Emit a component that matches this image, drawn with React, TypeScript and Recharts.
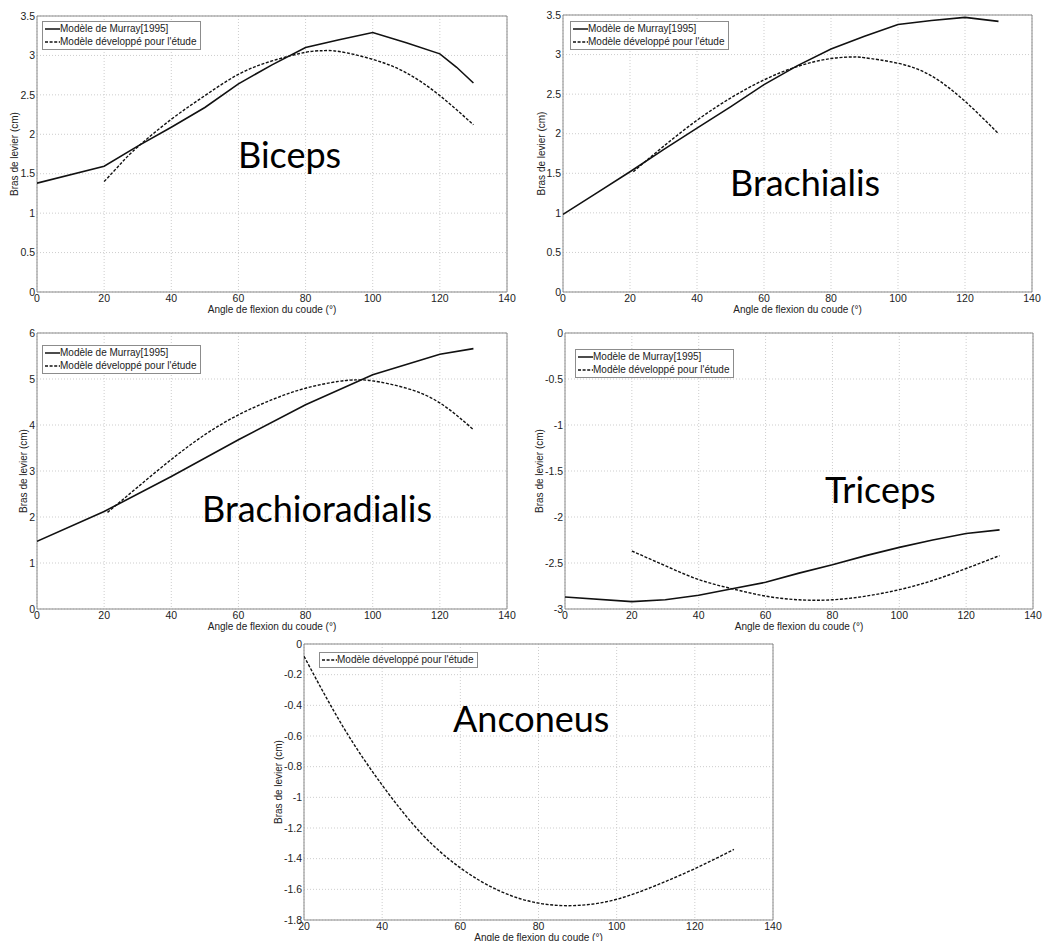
import React from 'react';
import { LineChart, Line, XAxis, YAxis, CartesianGrid, ReferenceArea, Legend } from 'recharts';

const MURRAY = 'Modèle de Murray[1995]';
const MODEL = "Modèle développé pour l'étude";
const X_TITLE = 'Angle de flexion du coude (°)';
const Y_TITLE = 'Bras de levier (cm)';

// tick labels
const xTicksFull = [0, 20, 40, 60, 80, 100, 120, 140];
const xTicksAnconeus = [20, 40, 60, 80, 100, 120, 140];
const yTicksBiceps = [0, 0.5, 1, 1.5, 2, 2.5, 3, 3.5];
const yTicksBrachialis = [0, 0.5, 1, 1.5, 2, 2.5, 3, 3.5];
const yTicksBrachioradialis = [0, 1, 2, 3, 4, 5, 6];
const yTicksTriceps = [-3, -2.5, -2, -1.5, -1, -0.5, 0];
const yTicksAnconeus = [-1.8, -1.6, -1.4, -1.2, -1, -0.8, -0.6, -0.4, -0.2, 0];

// Biceps
const bicepsMurrayAngle = [0, 20, 30, 40, 50, 60, 70, 80, 90, 100, 110, 120, 125, 130];
const bicepsMurray = [1.38, 1.595, 1.85, 2.09, 2.34, 2.64, 2.88, 3.1, 3.2, 3.29, 3.16, 3.02, 2.85, 2.65];
const bicepsModelAngle = [20, 25, 30, 40, 50, 60, 70, 80, 85, 90, 100, 110, 120, 130];
const bicepsModel = [1.4, 1.63, 1.84, 2.19, 2.49, 2.76, 2.93, 3.04, 3.06, 3.05, 2.95, 2.78, 2.49, 2.12];

// Brachialis
const brachialisMurrayAngle = [0, 10, 20, 30, 40, 50, 60, 70, 80, 90, 100, 110, 120, 130];
const brachialisMurray = [0.98, 1.25, 1.52, 1.8, 2.07, 2.34, 2.62, 2.86, 3.07, 3.23, 3.38, 3.43, 3.47, 3.42];
const brachialisModelAngle = [21, 30, 40, 50, 60, 70, 80, 87, 90, 100, 110, 120, 130];
const brachialisModel = [1.52, 1.84, 2.17, 2.45, 2.68, 2.85, 2.95, 2.97, 2.96, 2.89, 2.73, 2.41, 2.0];

// Brachioradialis
const brachioradialisMurrayAngle = [0, 20, 40, 60, 80, 100, 120, 130];
const brachioradialisMurray = [1.47, 2.12, 2.88, 3.68, 4.44, 5.09, 5.54, 5.66];
const brachioradialisModelAngle = [21, 30, 40, 50, 60, 70, 80, 90, 95, 100, 110, 120, 130];
const brachioradialisModel = [2.1, 2.65, 3.25, 3.79, 4.22, 4.55, 4.8, 4.95, 4.98, 4.96, 4.8, 4.48, 3.9];

// Triceps
const tricepsMurrayAngle = [0, 20, 30, 40, 50, 60, 70, 80, 90, 100, 110, 120, 130];
const tricepsMurray = [-2.87, -2.92, -2.9, -2.85, -2.78, -2.71, -2.61, -2.52, -2.42, -2.33, -2.25, -2.18, -2.14];
const tricepsModelAngle = [20, 30, 40, 50, 60, 70, 80, 90, 100, 110, 120, 130];
const tricepsModel = [-2.37, -2.53, -2.68, -2.78, -2.86, -2.9, -2.9, -2.86, -2.79, -2.69, -2.56, -2.42];

// Anconeus
const anconeusModelAngle = [20, 30, 40, 50, 60, 70, 80, 90, 100, 110, 120, 130];
const anconeusModel = [-0.08, -0.54, -0.92, -1.235, -1.46, -1.61, -1.69, -1.705, -1.665, -1.575, -1.465, -1.34];

type Row = { angle: number; murray?: number | null; model?: number | null };

function buildRows(mA: number[] | null, mV: number[] | null, dA: number[], dV: number[]): Row[] {
  const map = new Map<number, Row>();
  if (mA && mV) {
    mA.forEach((a, i) => {
      const r = map.get(a) || { angle: a, murray: null, model: null };
      r.murray = mV[i];
      map.set(a, r);
    });
  }
  dA.forEach((a, i) => {
    const r = map.get(a) || { angle: a, murray: null, model: null };
    r.model = dV[i];
    map.set(a, r);
  });
  return Array.from(map.values()).sort((p, q) => p.angle - q.angle);
}

const FONT = "'Liberation Sans', Arial, Helvetica, sans-serif";
const TXT = '#222';
const Y_AXIS_W = 37;
const M_TOP = 5;
const M_RIGHT = 16;
const X_AXIS_H = 24;

const LegendBox = ({ hasMurray }: { hasMurray: boolean }) => {
  const items = hasMurray
    ? [{ label: MURRAY, dashed: false }, { label: MODEL, dashed: true }]
    : [{ label: MODEL, dashed: true }];
  return (
    <div
      style={{
        border: '1px solid #8c8c8c',
        background: '#fff',
        padding: '1px 4px 1px 1px',
        fontFamily: FONT,
        fontSize: 10,
        color: TXT,
        lineHeight: '12.5px',
        display: 'inline-block',
      }}
    >
      {items.map((it) => (
        <div key={it.label} style={{ display: 'flex', alignItems: 'center', whiteSpace: 'nowrap' }}>
          <svg width={16} height={10} style={{ display: 'block' }}>
            <line
              x1={1}
              x2={16}
              y1={5}
              y2={5}
              stroke="#111"
              strokeWidth={1.5}
              strokeDasharray={it.dashed ? '3 1.6' : undefined}
            />
          </svg>
          <span>{it.label}</span>
        </div>
      ))}
    </div>
  );
};

type PanelProps = {
  plotLeft: number;
  plotTop: number;
  plotW: number;
  plotH: number;
  xDomain: [number, number];
  xTicks: number[];
  yDomain: [number, number];
  yTicks: number[];
  rows: Row[];
  hasMurray: boolean;
  yTitleDist: number;
  xTitleOffset?: number;
  legendDx: number;
  legendDy: number;
};

function Panel(p: PanelProps) {
  const width = Y_AXIS_W + p.plotW + M_RIGHT;
  const height = M_TOP + p.plotH + X_AXIS_H;
  return (
    <div style={{ position: 'absolute', left: p.plotLeft - Y_AXIS_W, top: p.plotTop - M_TOP }}>
      <LineChart width={width} height={height} data={p.rows} margin={{ top: M_TOP, right: M_RIGHT, bottom: 0, left: 0 }}>
        <CartesianGrid stroke="#cdcdcd" strokeDasharray="1 2" />
        <XAxis
          dataKey="angle"
          type="number"
          domain={p.xDomain}
          ticks={p.xTicks}
          interval={0}
          allowDataOverflow
          axisLine={false}
          tickLine={false}
          tickSize={0}
          tickMargin={3}
          height={X_AXIS_H}
          tick={{ fontSize: 10.5, fill: TXT, fontFamily: FONT }}
          label={{
            value: X_TITLE,
            position: 'insideBottom',
            offset: p.xTitleOffset ?? 3,
            fontSize: 10,
            fill: TXT,
            fontFamily: FONT,
          }}
        />
        <YAxis
          type="number"
          domain={p.yDomain}
          ticks={p.yTicks}
          interval={0}
          allowDataOverflow
          axisLine={false}
          tickLine={false}
          tickSize={0}
          tickMargin={2}
          width={Y_AXIS_W}
          tick={{ fontSize: 10.5, fill: TXT, fontFamily: FONT }}
          label={{
            value: Y_TITLE,
            angle: -90,
            position: 'insideLeft',
            offset: Y_AXIS_W - p.yTitleDist,
            fontSize: 10,
            fill: TXT,
            fontFamily: FONT,
            style: { textAnchor: 'middle' },
          }}
        />
        <ReferenceArea
          x1={p.xDomain[0]}
          x2={p.xDomain[1]}
          y1={p.yDomain[0]}
          y2={p.yDomain[1]}
          fill="none"
          fillOpacity={0}
          stroke="#8a8a8a"
          strokeWidth={1}
          ifOverflow="visible"
        />
        {p.hasMurray && (
          <Line
            type="linear"
            dataKey="murray"
            name={MURRAY}
            stroke="#111"
            strokeWidth={1.6}
            dot={false}
            connectNulls
            isAnimationActive={false}
          />
        )}
        <Line
          type="natural"
          dataKey="model"
          name={MODEL}
          stroke="#111"
          strokeWidth={1.4}
          strokeDasharray="3 1.6"
          dot={false}
          connectNulls
          isAnimationActive={false}
        />
        <Legend
          layout="horizontal"
          align="center"
          verticalAlign="middle"
          wrapperStyle={{ top: M_TOP + p.legendDy, left: Y_AXIS_W + p.legendDx, width: 'auto', height: 'auto' }}
          content={() => <LegendBox hasMurray={p.hasMurray} />}
        />
      </LineChart>
    </div>
  );
}

const bigLabels = [
  { text: 'Biceps', x: 238, y: 168 },
  { text: 'Brachialis', x: 730, y: 196 },
  { text: 'Brachioradialis', x: 202, y: 522 },
  { text: 'Triceps', x: 825, y: 503 },
  { text: 'Anconeus', x: 453, y: 732 },
];

export default function App() {
  return (
    <div
      style={{
        position: 'absolute',
        left: 0,
        top: 0,
        width: 1043,
        height: 941,
        background: '#fff',
        overflow: 'hidden',
      }}
    >
      <Panel
        plotLeft={37}
        plotTop={16}
        plotW={470}
        plotH={276}
        xDomain={[0, 140]}
        xTicks={xTicksFull}
        yDomain={[0, 3.5]}
        yTicks={yTicksBiceps}
        rows={buildRows(bicepsMurrayAngle, bicepsMurray, bicepsModelAngle, bicepsModel)}
        hasMurray
        yTitleDist={23}
        legendDx={5}
        legendDy={5}
      />
      <Panel
        plotLeft={563}
        plotTop={15}
        plotW={469}
        plotH={277}
        xDomain={[0, 140]}
        xTicks={xTicksFull}
        yDomain={[0, 3.5]}
        yTicks={yTicksBrachialis}
        rows={buildRows(brachialisMurrayAngle, brachialisMurray, brachialisModelAngle, brachialisModel)}
        hasMurray
        yTitleDist={21.5}
        legendDx={7}
        legendDy={6}
      />
      <Panel
        plotLeft={37}
        plotTop={333}
        plotW={470}
        plotH={276}
        xDomain={[0, 140]}
        xTicks={xTicksFull}
        yDomain={[0, 6]}
        yTicks={yTicksBrachioradialis}
        rows={buildRows(brachioradialisMurrayAngle, brachioradialisMurray, brachioradialisModelAngle, brachioradialisModel)}
        hasMurray
        yTitleDist={14}
        legendDx={5}
        legendDy={12}
      />
      <Panel
        plotLeft={565}
        plotTop={333}
        plotW={468}
        plotH={276}
        xDomain={[0, 140]}
        xTicks={xTicksFull}
        yDomain={[-3, 0]}
        yTicks={yTicksTriceps}
        rows={buildRows(tricepsMurrayAngle, tricepsMurray, tricepsModelAngle, tricepsModel)}
        hasMurray
        yTitleDist={26}
        legendDx={10}
        legendDy={16}
      />
      <Panel
        plotLeft={304}
        plotTop={644}
        plotW={469}
        plotH={276}
        xDomain={[20, 140]}
        xTicks={xTicksAnconeus}
        yDomain={[-1.8, 0]}
        yTicks={yTicksAnconeus}
        rows={buildRows(null, null, anconeusModelAngle, anconeusModel)}
        hasMurray={false}
        yTitleDist={26}
        xTitleOffset={3.5}
        legendDx={15}
        legendDy={7}
      />
      <svg
        width={1043}
        height={941}
        style={{ position: 'absolute', left: 0, top: 0, pointerEvents: 'none' }}
      >
        {bigLabels.map((b) => (
          <text key={b.text} x={b.x} y={b.y} fontFamily="Lato, 'Open Sans', sans-serif" fontSize={36} fill="#000">
            {b.text}
          </text>
        ))}
      </svg>
    </div>
  );
}
